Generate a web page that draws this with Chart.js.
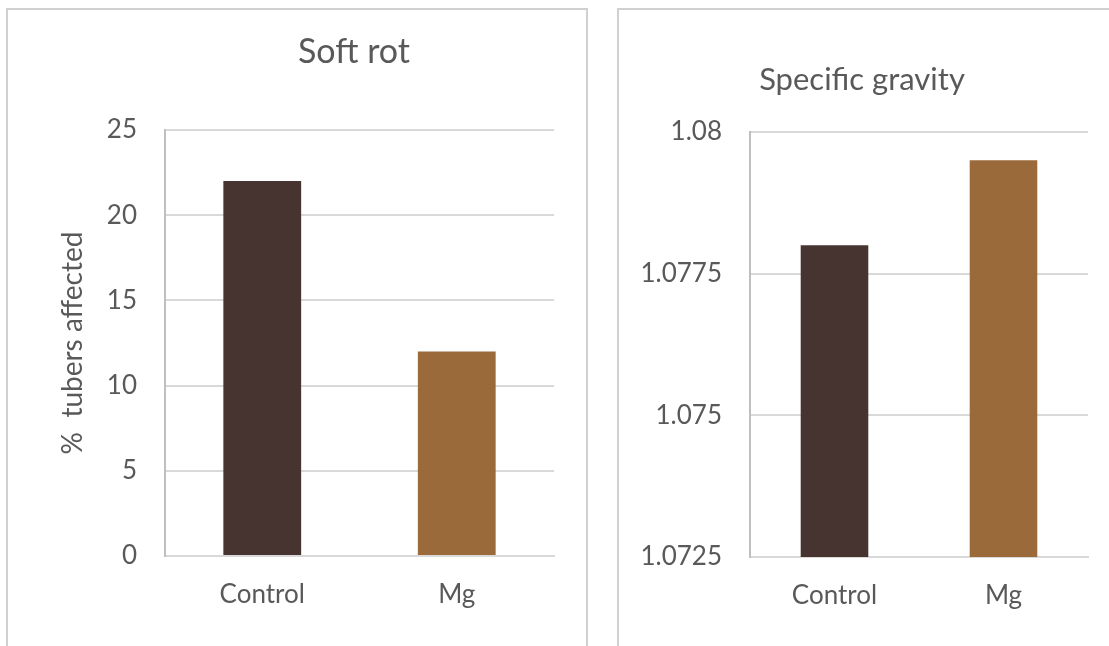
<!DOCTYPE html>
<html>
<head>
<meta charset="utf-8">
<script src="https://cdn.jsdelivr.net/npm/chart.js@4/dist/chart.umd.min.js"></script>
<style>
  html, body { margin: 0; padding: 0; background: #fff; width: 1109px; height: 646px; overflow: hidden; }
  .panel { position: absolute; top: 8px; height: 700px; border: 2px solid #d0d0d0; border-bottom: none; box-sizing: border-box; }
  #left-panel { left: 6px; width: 582px; }
  #right-panel { left: 617px; width: 600px; }
  canvas { position: absolute; top: 0; left: 0; }
</style>
</head>
<body>
<div class="panel" id="left-panel"><canvas id="rot-chart" width="578" height="636"></canvas></div>
<div class="panel" id="right-panel"><canvas id="gravity-chart" width="490" height="636"></canvas></div>
<script>
const categories = ['Control', 'Mg'];
const softRot = [22, 12];
const specificGravity = [1.078, 1.0795];
const rotTicks = [0, 5, 10, 15, 20, 25];
const gravityTicks = [1.0725, 1.075, 1.0775, 1.08];
const gravityTickLabels = ['1.0725', '1.075', '1.0775', '1.08'];
const barColors = ['#473430', '#9a6a3a'];

const textColor = '#595959';
const fontFamily = 'Lato, "Open Sans", sans-serif';

// title drawn at a fixed spot over the panel
const panelTitle = {
  id: 'panelTitle',
  afterDraw(chart, args, opts) {
    const ctx = chart.ctx;
    ctx.save();
    ctx.font = `${opts.size}px ${fontFamily}`;
    ctx.fillStyle = textColor;
    ctx.textAlign = 'center';
    ctx.textBaseline = 'middle';
    ctx.fillText(opts.text, opts.x, opts.y);
    ctx.restore();
  }
};

function makeChart(id, values, cfg) {
  const ctx = document.getElementById(id).getContext('2d');
  return new Chart(ctx, {
    type: 'bar',
    data: {
      labels: categories,
      datasets: [{ data: values, backgroundColor: barColors, barPercentage: 0.4, categoryPercentage: 1 }]
    },
    options: {
      responsive: false,
      animation: false,
      layout: { padding: cfg.padding },
      plugins: {
        legend: { display: false },
        tooltip: { enabled: false },
        title: { display: false },
        panelTitle: cfg.title
      },
      scales: {
        x: {
          grid: { display: false, drawTicks: false },
          border: { color: '#d9d9d9', width: 2 },
          ticks: { color: textColor, font: { family: fontFamily, size: 26 }, padding: 23 },
          afterFit: s => { s.height = cfg.xHeight; }
        },
        y: {
          min: cfg.min,
          max: cfg.max,
          grid: { color: '#d9d9d9', lineWidth: 2, drawTicks: false },
          border: { color: '#bfbfbf', width: 2 },
          ticks: {
            color: textColor,
            font: { family: fontFamily, size: 26 },
            padding: 28,
            callback: cfg.tickLabel
          },
          afterBuildTicks: s => { s.ticks = cfg.ticks.map(v => ({ value: v })); },
          title: cfg.yTitle,
          afterFit: s => { s.width = cfg.yWidth; }
        }
      }
    },
    plugins: [panelTitle]
  });
}

makeChart('rot-chart', softRot, {
  padding: { left: 0, right: 32, top: 120, bottom: 0 },
  title: { text: 'Soft rot', x: 346, y: 42, size: 34 },
  min: 0, max: 25,
  ticks: rotTicks,
  tickLabel: v => String(v),
  yTitle: {
    display: true, text: '%  tubers affected', color: textColor,
    font: { family: fontFamily, size: 28 }, padding: { top: 48, bottom: 0 }
  },
  yWidth: 157,
  xHeight: 90
});

makeChart('gravity-chart', specificGravity, {
  padding: { left: 0, right: 21, top: 122, bottom: 0 },
  title: { text: 'Specific gravity', x: 243, y: 70, size: 31 },
  min: 1.0725, max: 1.08,
  ticks: gravityTicks,
  tickLabel: (v, i) => gravityTickLabels[i],
  yTitle: { display: false },
  yWidth: 131,
  xHeight: 89
});
</script>
</body>
</html>
